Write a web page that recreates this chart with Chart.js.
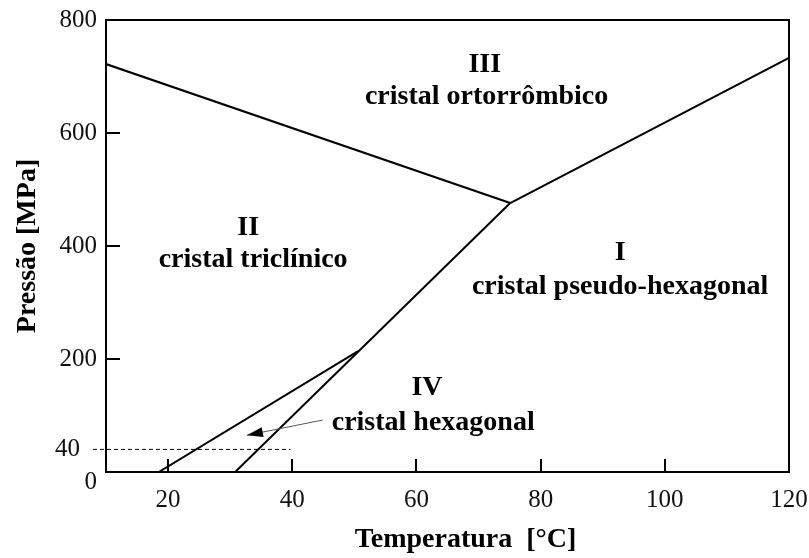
<!DOCTYPE html>
<html>
<head>
<meta charset="utf-8">
<script src="https://cdn.jsdelivr.net/npm/chart.js@4.4.1/dist/chart.umd.min.js"></script>
<style>
  html, body { margin: 0; padding: 0; background: #fff; }
  #wrap { width: 809px; height: 558px; }
</style>
</head>
<body>
<div id="wrap"><canvas id="phaseChart"></canvas></div>
<script>
// axis ticks
const xTicks = [20, 40, 60, 80, 100, 120];
const yTicks = [0, 40, 200, 400, 600, 800];
const xTickMarks = [20, 40, 60, 80, 100];
const yTickMarks = [200, 400, 600];

// phase boundaries (temperature °C, pressure MPa)
const boundaryII_III = [{ x: 10, y: 722 }, { x: 75.1, y: 476 }];
const boundaryIII_I = [{ x: 75.1, y: 476 }, { x: 120, y: 733 }];
const boundaryI = [{ x: 30.8, y: 0 }, { x: 75.1, y: 476 }];
const boundaryII_IV = [{ x: 18.5, y: 0 }, { x: 50.6, y: 214 }];
const line40 = [{ x: 7.9, y: 40 }, { x: 39.7, y: 40 }];
const arrowFromTo = [{ x: 44.9, y: 92 }, { x: 32.7, y: 65 }];

// region names
const regionLabels = [
  { text: 'III', x: 71, y: 720 },
  { text: 'cristal ortorrômbico', x: 71.3, y: 664 },
  { text: 'II', x: 32.9, y: 432 },
  { text: 'cristal triclínico', x: 33.7, y: 375 },
  { text: 'I', x: 92.8, y: 388 },
  { text: 'cristal pseudo-hexagonal', x: 92.8, y: 327 },
  { text: 'IV', x: 61.7, y: 149 },
  { text: 'cristal hexagonal', x: 62.7, y: 88 }
];

const serif = "'Liberation Serif', 'Times New Roman', serif";
Chart.defaults.font.family = serif;

const solid = data => ({
  data,
  showLine: true,
  borderColor: '#000',
  borderWidth: 2,
  pointRadius: 0,
  tension: 0
});

const overlayPlugin = {
  id: 'phaseOverlay',
  afterDatasetsDraw(chart) {
    const { ctx, chartArea: a, scales: { x, y } } = chart;
    ctx.save();

    // full frame round the plot
    ctx.strokeStyle = '#000';
    ctx.lineWidth = 2;
    ctx.strokeRect(a.left, a.top, a.right - a.left, a.bottom - a.top);

    // inward tick marks
    ctx.beginPath();
    xTickMarks.forEach(v => {
      const px = Math.round(x.getPixelForValue(v));
      ctx.moveTo(px, a.bottom);
      ctx.lineTo(px, a.bottom - 13);
    });
    yTickMarks.forEach(v => {
      const py = Math.round(y.getPixelForValue(v));
      ctx.moveTo(a.left, py);
      ctx.lineTo(a.left + 14, py);
    });
    ctx.stroke();

    // tick labels ("40" sits left of the dashed line, "0" a bit low)
    ctx.fillStyle = '#111';
    ctx.font = '25px ' + serif;
    ctx.textAlign = 'right';
    ctx.textBaseline = 'middle';
    yTicks.forEach(v => {
      const dx = v === 40 ? 26 : 9;
      const dy = v === 0 ? 10 : 0;
      ctx.fillText(String(v), a.left - dx, y.getPixelForValue(v) + dy);
    });
    ctx.textAlign = 'center';
    xTicks.forEach(v => {
      ctx.fillText(String(v), x.getPixelForValue(v), a.bottom + 28);
    });

    // x axis title
    ctx.fillStyle = '#000';
    ctx.font = 'bold 28px ' + serif;
    ctx.fillText('Temperatura  [°C]', (a.left + a.right) / 2 + 18, a.bottom + 68);

    // arrow pointing into the IV region
    const x0 = x.getPixelForValue(arrowFromTo[0].x), y0 = y.getPixelForValue(arrowFromTo[0].y);
    const x1 = x.getPixelForValue(arrowFromTo[1].x), y1 = y.getPixelForValue(arrowFromTo[1].y);
    const ang = Math.atan2(y1 - y0, x1 - x0);
    ctx.strokeStyle = '#555';
    ctx.lineWidth = 1;
    ctx.beginPath();
    ctx.moveTo(x0, y0);
    ctx.lineTo(x1, y1);
    ctx.stroke();
    ctx.fillStyle = '#000';
    ctx.beginPath();
    ctx.moveTo(x1, y1);
    ctx.lineTo(x1 - 16 * Math.cos(ang) + 5 * Math.sin(ang), y1 - 16 * Math.sin(ang) - 5 * Math.cos(ang));
    ctx.lineTo(x1 - 16 * Math.cos(ang) - 5 * Math.sin(ang), y1 - 16 * Math.sin(ang) + 5 * Math.cos(ang));
    ctx.closePath();
    ctx.fill();

    // region labels
    ctx.font = 'bold 28px ' + serif;
    regionLabels.forEach(l => {
      ctx.fillText(l.text, x.getPixelForValue(l.x), y.getPixelForValue(l.y));
    });

    ctx.restore();
  }
};

new Chart(document.getElementById('phaseChart'), {
  type: 'scatter',
  data: {
    datasets: [
      solid(boundaryII_III),
      solid(boundaryIII_I),
      solid(boundaryI),
      solid(boundaryII_IV),
      {
        data: line40,
        showLine: true,
        borderColor: '#000',
        borderWidth: 1,
        borderDash: [4, 3],
        pointRadius: 0,
        clip: false
      }
    ]
  },
  options: {
    responsive: true,
    maintainAspectRatio: false,
    animation: false,
    events: [],
    layout: { padding: { top: 20, right: 20, left: 0, bottom: 0 } },
    scales: {
      x: {
        type: 'linear',
        min: 10,
        max: 120,
        afterBuildTicks: s => { s.ticks = xTicks.map(v => ({ value: v })); },
        afterFit: s => { s.height = 86; },
        ticks: { display: false },
        grid: { drawOnChartArea: false, drawTicks: false },
        border: { color: '#000', width: 2 },
        title: { display: false, text: 'Temperatura  [°C]' }
      },
      y: {
        type: 'linear',
        min: 0,
        max: 800,
        afterBuildTicks: s => { s.ticks = yTicks.map(v => ({ value: v })); },
        afterFit: s => { s.width = 106; },
        ticks: { display: false },
        grid: { drawOnChartArea: false, drawTicks: false },
        border: { color: '#000', width: 2 },
        title: {
          display: true,
          text: 'Pressão [MPa]',
          color: '#000',
          font: { size: 28, weight: 'bold' },
          padding: { top: 11, bottom: 0 }
        }
      }
    },
    plugins: {
      legend: { display: false },
      tooltip: { enabled: false }
    }
  },
  plugins: [overlayPlugin]
});
</script>
</body>
</html>
